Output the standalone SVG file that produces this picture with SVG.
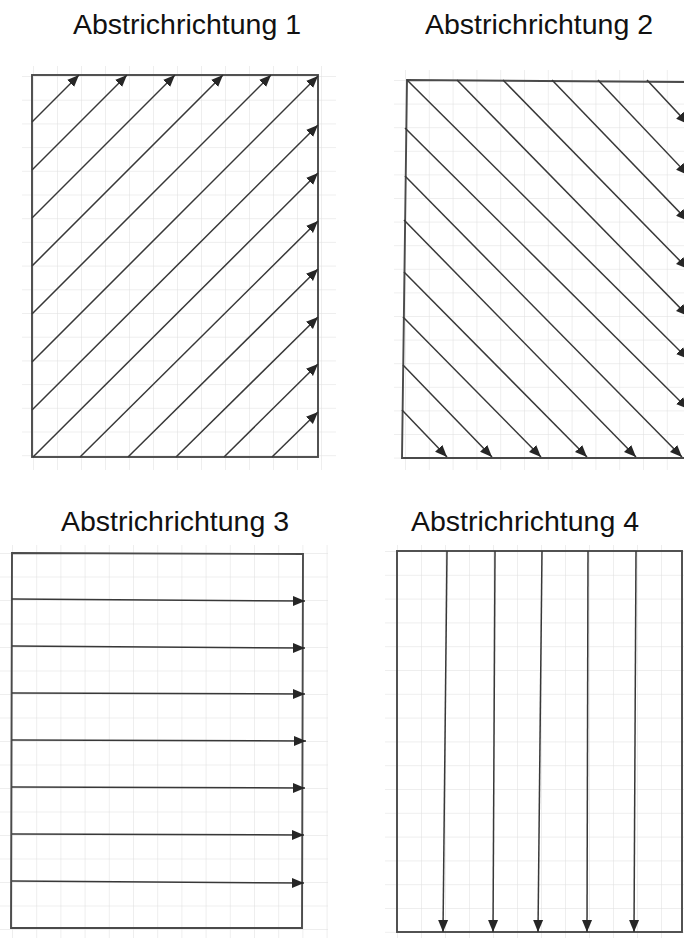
<svg xmlns="http://www.w3.org/2000/svg" width="684" height="938" viewBox="0 0 684 938">
<style>
.t{font-family:"Liberation Sans",Arial,Helvetica,sans-serif;font-size:28.5px;fill:#111;text-anchor:middle}
.box{fill:none;stroke:#4a4a4a;stroke-width:1.9}
.ar{fill:none;stroke:#383838;stroke-width:1.5;marker-end:url(#ah)}
.gl{fill:none;stroke:#dedede;stroke-width:1}
</style>
<defs>
<marker id="ah" markerUnits="userSpaceOnUse" markerWidth="14" markerHeight="12" refX="12" refY="5.5" orient="auto"><path d="M0,0.5 L12,5.5 L0,10.5 z" fill="#262626"/></marker>
<pattern id="g1" patternUnits="userSpaceOnUse" x="33" y="76" width="24" height="23.7"><path class="gl" d="M0,0 V23.7 M0,0 H24"/></pattern>
<pattern id="g2" patternUnits="userSpaceOnUse" x="405" y="80" width="23.8" height="23.6"><path class="gl" d="M0,0 V23.6 M0,0 H23.8"/></pattern>
<pattern id="g3" patternUnits="userSpaceOnUse" x="12" y="553" width="24.2" height="23.5"><path class="gl" d="M0,0 V23.5 M0,0 H24.2"/></pattern>
<pattern id="g4" patternUnits="userSpaceOnUse" x="397" y="551" width="24" height="23.8"><path class="gl" d="M0,0 V23.8 M0,0 H24"/></pattern>
</defs>
<rect width="684" height="938" fill="#fff"/>

<g id="panel1">
<text class="t" x="187" y="34">Abstrichrichtung 1</text>
<rect x="22" y="66" width="314" height="404" fill="url(#g1)"/>
<rect class="box" x="32" y="75" width="286" height="382"/>
<g id="connectors1">
<line class="ar" x1="32" y1="122" x2="79" y2="75"/>
<line class="ar" x1="32" y1="170" x2="127" y2="75"/>
<line class="ar" x1="32" y1="218" x2="175" y2="75"/>
<line class="ar" x1="32" y1="266" x2="223" y2="75"/>
<line class="ar" x1="32" y1="314" x2="271" y2="75"/>
<line class="ar" x1="32" y1="362" x2="318" y2="76"/>
<line class="ar" x1="32" y1="410" x2="318" y2="125"/>
<line class="ar" x1="33" y1="457" x2="318" y2="173"/>
<line class="ar" x1="80" y1="457" x2="318" y2="221"/>
<line class="ar" x1="128" y1="457" x2="318" y2="269"/>
<line class="ar" x1="176" y1="457" x2="318" y2="317"/>
<line class="ar" x1="224" y1="457" x2="318" y2="364"/>
<line class="ar" x1="272" y1="457" x2="318" y2="412"/>
</g>
</g>

<g id="panel2">
<text class="t" x="539" y="34">Abstrichrichtung 2</text>
<rect x="394" y="70" width="290" height="400" fill="url(#g2)"/>
<path class="box" d="M690,82 L407,80 L402,458 L690,458"/>
<g id="connectors2">
<line class="ar" x1="647" y1="80" x2="688" y2="124"/>
<line class="ar" x1="598" y1="80" x2="688" y2="175"/>
<line class="ar" x1="552" y1="80" x2="688" y2="221"/>
<line class="ar" x1="503" y1="80" x2="688" y2="269"/>
<line class="ar" x1="457" y1="80" x2="688" y2="316"/>
<line class="ar" x1="407" y1="80" x2="688" y2="359"/>
<line class="ar" x1="405" y1="128" x2="688" y2="409"/>
<line class="ar" x1="405" y1="176" x2="682" y2="457"/>
<line class="ar" x1="404" y1="220" x2="636" y2="457"/>
<line class="ar" x1="404" y1="272" x2="587" y2="457"/>
<line class="ar" x1="403" y1="317" x2="541" y2="457"/>
<line class="ar" x1="403" y1="365" x2="492" y2="457"/>
<line class="ar" x1="402" y1="410" x2="447" y2="457"/>
</g>
</g>

<g id="panel3">
<text class="t" x="175" y="531">Abstrichrichtung 3</text>
<rect x="0" y="545" width="328" height="393" fill="url(#g3)"/>
<path class="box" d="M12,553 L303,554 L302,928 L11,928 Z"/>
<g id="connectors3">
<line class="ar" x1="12" y1="599" x2="305" y2="601"/>
<line class="ar" x1="12" y1="646" x2="305" y2="648"/>
<line class="ar" x1="12" y1="693" x2="305" y2="694"/>
<line class="ar" x1="12" y1="740" x2="306" y2="741"/>
<line class="ar" x1="12" y1="787" x2="305" y2="788"/>
<line class="ar" x1="12" y1="834" x2="304" y2="835"/>
<line class="ar" x1="12" y1="881" x2="304" y2="883"/>
</g>
</g>

<g id="panel4">
<text class="t" x="525" y="531">Abstrichrichtung 4</text>
<rect x="385" y="545" width="299" height="393" fill="url(#g4)"/>
<rect class="box" x="397" y="551" width="285" height="381"/>
<g id="connectors4">
<line class="ar" x1="447" y1="551" x2="443" y2="932"/>
<line class="ar" x1="495" y1="551" x2="493" y2="932"/>
<line class="ar" x1="542" y1="551" x2="538" y2="932"/>
<line class="ar" x1="588" y1="551" x2="587" y2="932"/>
<line class="ar" x1="636" y1="551" x2="634" y2="932"/>
</g>
</g>
</svg>
